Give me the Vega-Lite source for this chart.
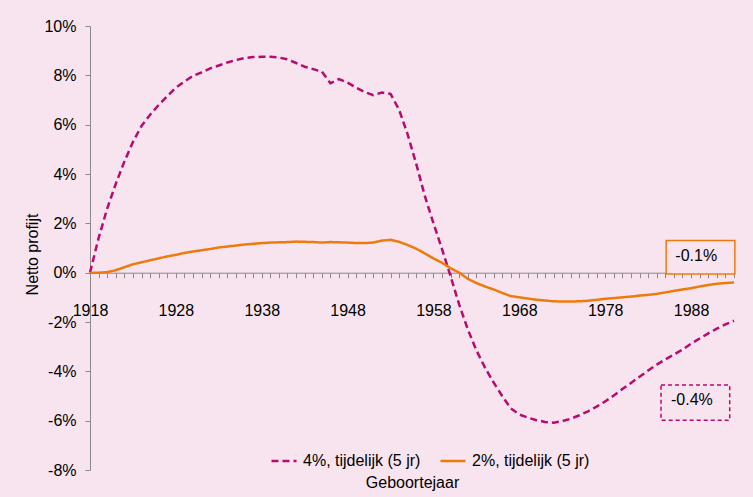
{
  "$schema": "https://vega.github.io/schema/vega-lite/v6.json",
  "width": 644,
  "height": 444,
  "autosize": {"type": "none"},
  "padding": {"left": 90, "top": 26, "right": 19, "bottom": 27},
  "background": "#f7e4ef",
  "config": {
    "view": {"stroke": null},
    "font": "Liberation Sans",
    "axis": {"labelFont": "Liberation Sans", "titleFont": "Liberation Sans", "labelColor": "#000000", "titleColor": "#000000", "labelFontSize": 16, "titleFontSize": 16, "titleFontWeight": "normal", "domainColor": "#8a8a8a", "grid": false, "ticks": true},
    "legend": {"labelFont": "Liberation Sans", "labelFontSize": 16, "labelColor": "#000000"}
  },
  "datasets": {
    "lines": [
      {"jaar":1918,"reeks":"4%, tijdelijk (5 jr)","waarde":0},
      {"jaar":1919,"reeks":"4%, tijdelijk (5 jr)","waarde":1.4},
      {"jaar":1920,"reeks":"4%, tijdelijk (5 jr)","waarde":2.6},
      {"jaar":1921,"reeks":"4%, tijdelijk (5 jr)","waarde":3.6},
      {"jaar":1922,"reeks":"4%, tijdelijk (5 jr)","waarde":4.5},
      {"jaar":1923,"reeks":"4%, tijdelijk (5 jr)","waarde":5.3},
      {"jaar":1924,"reeks":"4%, tijdelijk (5 jr)","waarde":5.95},
      {"jaar":1925,"reeks":"4%, tijdelijk (5 jr)","waarde":6.4},
      {"jaar":1926,"reeks":"4%, tijdelijk (5 jr)","waarde":6.8},
      {"jaar":1927,"reeks":"4%, tijdelijk (5 jr)","waarde":7.15},
      {"jaar":1928,"reeks":"4%, tijdelijk (5 jr)","waarde":7.5},
      {"jaar":1929,"reeks":"4%, tijdelijk (5 jr)","waarde":7.75},
      {"jaar":1930,"reeks":"4%, tijdelijk (5 jr)","waarde":7.98},
      {"jaar":1931,"reeks":"4%, tijdelijk (5 jr)","waarde":8.12},
      {"jaar":1932,"reeks":"4%, tijdelijk (5 jr)","waarde":8.28},
      {"jaar":1933,"reeks":"4%, tijdelijk (5 jr)","waarde":8.4},
      {"jaar":1934,"reeks":"4%, tijdelijk (5 jr)","waarde":8.52},
      {"jaar":1935,"reeks":"4%, tijdelijk (5 jr)","waarde":8.62},
      {"jaar":1936,"reeks":"4%, tijdelijk (5 jr)","waarde":8.7},
      {"jaar":1937,"reeks":"4%, tijdelijk (5 jr)","waarde":8.74},
      {"jaar":1938,"reeks":"4%, tijdelijk (5 jr)","waarde":8.75},
      {"jaar":1939,"reeks":"4%, tijdelijk (5 jr)","waarde":8.75},
      {"jaar":1940,"reeks":"4%, tijdelijk (5 jr)","waarde":8.72},
      {"jaar":1941,"reeks":"4%, tijdelijk (5 jr)","waarde":8.65},
      {"jaar":1942,"reeks":"4%, tijdelijk (5 jr)","waarde":8.5},
      {"jaar":1943,"reeks":"4%, tijdelijk (5 jr)","waarde":8.35},
      {"jaar":1944,"reeks":"4%, tijdelijk (5 jr)","waarde":8.25},
      {"jaar":1945,"reeks":"4%, tijdelijk (5 jr)","waarde":8.15},
      {"jaar":1946,"reeks":"4%, tijdelijk (5 jr)","waarde":7.68},
      {"jaar":1947,"reeks":"4%, tijdelijk (5 jr)","waarde":7.85},
      {"jaar":1948,"reeks":"4%, tijdelijk (5 jr)","waarde":7.7},
      {"jaar":1949,"reeks":"4%, tijdelijk (5 jr)","waarde":7.5},
      {"jaar":1950,"reeks":"4%, tijdelijk (5 jr)","waarde":7.32},
      {"jaar":1951,"reeks":"4%, tijdelijk (5 jr)","waarde":7.2},
      {"jaar":1952,"reeks":"4%, tijdelijk (5 jr)","waarde":7.3},
      {"jaar":1953,"reeks":"4%, tijdelijk (5 jr)","waarde":7.25},
      {"jaar":1954,"reeks":"4%, tijdelijk (5 jr)","waarde":6.6},
      {"jaar":1955,"reeks":"4%, tijdelijk (5 jr)","waarde":5.6},
      {"jaar":1956,"reeks":"4%, tijdelijk (5 jr)","waarde":4.4},
      {"jaar":1957,"reeks":"4%, tijdelijk (5 jr)","waarde":3.1},
      {"jaar":1958,"reeks":"4%, tijdelijk (5 jr)","waarde":2.0},
      {"jaar":1959,"reeks":"4%, tijdelijk (5 jr)","waarde":0.95},
      {"jaar":1960,"reeks":"4%, tijdelijk (5 jr)","waarde":-0.15},
      {"jaar":1961,"reeks":"4%, tijdelijk (5 jr)","waarde":-1.3},
      {"jaar":1962,"reeks":"4%, tijdelijk (5 jr)","waarde":-2.3},
      {"jaar":1963,"reeks":"4%, tijdelijk (5 jr)","waarde":-3.15},
      {"jaar":1964,"reeks":"4%, tijdelijk (5 jr)","waarde":-3.85},
      {"jaar":1965,"reeks":"4%, tijdelijk (5 jr)","waarde":-4.45},
      {"jaar":1966,"reeks":"4%, tijdelijk (5 jr)","waarde":-5.0},
      {"jaar":1967,"reeks":"4%, tijdelijk (5 jr)","waarde":-5.5},
      {"jaar":1968,"reeks":"4%, tijdelijk (5 jr)","waarde":-5.75},
      {"jaar":1969,"reeks":"4%, tijdelijk (5 jr)","waarde":-5.88},
      {"jaar":1970,"reeks":"4%, tijdelijk (5 jr)","waarde":-5.98},
      {"jaar":1971,"reeks":"4%, tijdelijk (5 jr)","waarde":-6.05},
      {"jaar":1972,"reeks":"4%, tijdelijk (5 jr)","waarde":-6.08},
      {"jaar":1973,"reeks":"4%, tijdelijk (5 jr)","waarde":-6.02},
      {"jaar":1974,"reeks":"4%, tijdelijk (5 jr)","waarde":-5.92},
      {"jaar":1975,"reeks":"4%, tijdelijk (5 jr)","waarde":-5.78},
      {"jaar":1976,"reeks":"4%, tijdelijk (5 jr)","waarde":-5.62},
      {"jaar":1977,"reeks":"4%, tijdelijk (5 jr)","waarde":-5.43},
      {"jaar":1978,"reeks":"4%, tijdelijk (5 jr)","waarde":-5.22},
      {"jaar":1979,"reeks":"4%, tijdelijk (5 jr)","waarde":-4.98},
      {"jaar":1980,"reeks":"4%, tijdelijk (5 jr)","waarde":-4.72},
      {"jaar":1981,"reeks":"4%, tijdelijk (5 jr)","waarde":-4.47},
      {"jaar":1982,"reeks":"4%, tijdelijk (5 jr)","waarde":-4.22},
      {"jaar":1983,"reeks":"4%, tijdelijk (5 jr)","waarde":-3.97},
      {"jaar":1984,"reeks":"4%, tijdelijk (5 jr)","waarde":-3.73},
      {"jaar":1985,"reeks":"4%, tijdelijk (5 jr)","waarde":-3.52},
      {"jaar":1986,"reeks":"4%, tijdelijk (5 jr)","waarde":-3.32},
      {"jaar":1987,"reeks":"4%, tijdelijk (5 jr)","waarde":-3.12},
      {"jaar":1988,"reeks":"4%, tijdelijk (5 jr)","waarde":-2.88},
      {"jaar":1989,"reeks":"4%, tijdelijk (5 jr)","waarde":-2.67},
      {"jaar":1990,"reeks":"4%, tijdelijk (5 jr)","waarde":-2.46},
      {"jaar":1991,"reeks":"4%, tijdelijk (5 jr)","waarde":-2.27},
      {"jaar":1992,"reeks":"4%, tijdelijk (5 jr)","waarde":-2.1},
      {"jaar":1993,"reeks":"4%, tijdelijk (5 jr)","waarde":-1.95},
      {"jaar":1918,"reeks":"2%, tijdelijk (5 jr)","waarde":0},
      {"jaar":1919,"reeks":"2%, tijdelijk (5 jr)","waarde":0},
      {"jaar":1920,"reeks":"2%, tijdelijk (5 jr)","waarde":0.02},
      {"jaar":1921,"reeks":"2%, tijdelijk (5 jr)","waarde":0.1},
      {"jaar":1922,"reeks":"2%, tijdelijk (5 jr)","waarde":0.22},
      {"jaar":1923,"reeks":"2%, tijdelijk (5 jr)","waarde":0.34},
      {"jaar":1924,"reeks":"2%, tijdelijk (5 jr)","waarde":0.42},
      {"jaar":1925,"reeks":"2%, tijdelijk (5 jr)","waarde":0.5},
      {"jaar":1926,"reeks":"2%, tijdelijk (5 jr)","waarde":0.58},
      {"jaar":1927,"reeks":"2%, tijdelijk (5 jr)","waarde":0.66},
      {"jaar":1928,"reeks":"2%, tijdelijk (5 jr)","waarde":0.72},
      {"jaar":1929,"reeks":"2%, tijdelijk (5 jr)","waarde":0.8},
      {"jaar":1930,"reeks":"2%, tijdelijk (5 jr)","waarde":0.86},
      {"jaar":1931,"reeks":"2%, tijdelijk (5 jr)","waarde":0.91},
      {"jaar":1932,"reeks":"2%, tijdelijk (5 jr)","waarde":0.96},
      {"jaar":1933,"reeks":"2%, tijdelijk (5 jr)","waarde":1.02},
      {"jaar":1934,"reeks":"2%, tijdelijk (5 jr)","waarde":1.06},
      {"jaar":1935,"reeks":"2%, tijdelijk (5 jr)","waarde":1.1},
      {"jaar":1936,"reeks":"2%, tijdelijk (5 jr)","waarde":1.14},
      {"jaar":1937,"reeks":"2%, tijdelijk (5 jr)","waarde":1.17},
      {"jaar":1938,"reeks":"2%, tijdelijk (5 jr)","waarde":1.2},
      {"jaar":1939,"reeks":"2%, tijdelijk (5 jr)","waarde":1.22},
      {"jaar":1940,"reeks":"2%, tijdelijk (5 jr)","waarde":1.23},
      {"jaar":1941,"reeks":"2%, tijdelijk (5 jr)","waarde":1.24},
      {"jaar":1942,"reeks":"2%, tijdelijk (5 jr)","waarde":1.26},
      {"jaar":1943,"reeks":"2%, tijdelijk (5 jr)","waarde":1.25},
      {"jaar":1944,"reeks":"2%, tijdelijk (5 jr)","waarde":1.24},
      {"jaar":1945,"reeks":"2%, tijdelijk (5 jr)","waarde":1.22},
      {"jaar":1946,"reeks":"2%, tijdelijk (5 jr)","waarde":1.24},
      {"jaar":1947,"reeks":"2%, tijdelijk (5 jr)","waarde":1.23},
      {"jaar":1948,"reeks":"2%, tijdelijk (5 jr)","waarde":1.22},
      {"jaar":1949,"reeks":"2%, tijdelijk (5 jr)","waarde":1.2},
      {"jaar":1950,"reeks":"2%, tijdelijk (5 jr)","waarde":1.2},
      {"jaar":1951,"reeks":"2%, tijdelijk (5 jr)","waarde":1.22},
      {"jaar":1952,"reeks":"2%, tijdelijk (5 jr)","waarde":1.3},
      {"jaar":1953,"reeks":"2%, tijdelijk (5 jr)","waarde":1.33},
      {"jaar":1954,"reeks":"2%, tijdelijk (5 jr)","waarde":1.25},
      {"jaar":1955,"reeks":"2%, tijdelijk (5 jr)","waarde":1.12},
      {"jaar":1956,"reeks":"2%, tijdelijk (5 jr)","waarde":0.97},
      {"jaar":1957,"reeks":"2%, tijdelijk (5 jr)","waarde":0.78},
      {"jaar":1958,"reeks":"2%, tijdelijk (5 jr)","waarde":0.58},
      {"jaar":1959,"reeks":"2%, tijdelijk (5 jr)","waarde":0.4},
      {"jaar":1960,"reeks":"2%, tijdelijk (5 jr)","waarde":0.18},
      {"jaar":1961,"reeks":"2%, tijdelijk (5 jr)","waarde":0.0},
      {"jaar":1962,"reeks":"2%, tijdelijk (5 jr)","waarde":-0.25},
      {"jaar":1963,"reeks":"2%, tijdelijk (5 jr)","waarde":-0.42},
      {"jaar":1964,"reeks":"2%, tijdelijk (5 jr)","waarde":-0.56},
      {"jaar":1965,"reeks":"2%, tijdelijk (5 jr)","waarde":-0.68},
      {"jaar":1966,"reeks":"2%, tijdelijk (5 jr)","waarde":-0.82},
      {"jaar":1967,"reeks":"2%, tijdelijk (5 jr)","waarde":-0.95},
      {"jaar":1968,"reeks":"2%, tijdelijk (5 jr)","waarde":-1.0},
      {"jaar":1969,"reeks":"2%, tijdelijk (5 jr)","waarde":-1.05},
      {"jaar":1970,"reeks":"2%, tijdelijk (5 jr)","waarde":-1.1},
      {"jaar":1971,"reeks":"2%, tijdelijk (5 jr)","waarde":-1.13},
      {"jaar":1972,"reeks":"2%, tijdelijk (5 jr)","waarde":-1.16},
      {"jaar":1973,"reeks":"2%, tijdelijk (5 jr)","waarde":-1.17},
      {"jaar":1974,"reeks":"2%, tijdelijk (5 jr)","waarde":-1.17},
      {"jaar":1975,"reeks":"2%, tijdelijk (5 jr)","waarde":-1.16},
      {"jaar":1976,"reeks":"2%, tijdelijk (5 jr)","waarde":-1.14},
      {"jaar":1977,"reeks":"2%, tijdelijk (5 jr)","waarde":-1.1},
      {"jaar":1978,"reeks":"2%, tijdelijk (5 jr)","waarde":-1.06},
      {"jaar":1979,"reeks":"2%, tijdelijk (5 jr)","waarde":-1.03},
      {"jaar":1980,"reeks":"2%, tijdelijk (5 jr)","waarde":-1.0},
      {"jaar":1981,"reeks":"2%, tijdelijk (5 jr)","waarde":-0.97},
      {"jaar":1982,"reeks":"2%, tijdelijk (5 jr)","waarde":-0.93},
      {"jaar":1983,"reeks":"2%, tijdelijk (5 jr)","waarde":-0.9},
      {"jaar":1984,"reeks":"2%, tijdelijk (5 jr)","waarde":-0.86},
      {"jaar":1985,"reeks":"2%, tijdelijk (5 jr)","waarde":-0.8},
      {"jaar":1986,"reeks":"2%, tijdelijk (5 jr)","waarde":-0.74},
      {"jaar":1987,"reeks":"2%, tijdelijk (5 jr)","waarde":-0.68},
      {"jaar":1988,"reeks":"2%, tijdelijk (5 jr)","waarde":-0.63},
      {"jaar":1989,"reeks":"2%, tijdelijk (5 jr)","waarde":-0.56},
      {"jaar":1990,"reeks":"2%, tijdelijk (5 jr)","waarde":-0.5},
      {"jaar":1991,"reeks":"2%, tijdelijk (5 jr)","waarde":-0.45},
      {"jaar":1992,"reeks":"2%, tijdelijk (5 jr)","waarde":-0.42},
      {"jaar":1993,"reeks":"2%, tijdelijk (5 jr)","waarde":-0.4}
    ],
    "boxes": [
      {"jaar": 1985.1, "jaar2": 1993.1, "waarde": 1.3, "waarde2": -0.05, "kleur": "oranje"},
      {"jaar": 1984.5, "jaar2": 1992.5, "waarde": -4.55, "waarde2": -5.98, "kleur": "paars"}
    ],
    "teksten": [
      {"jaar": 1988.6, "waarde": 0.67, "tekst": "-0.1%"},
      {"jaar": 1988.1, "waarde": -5.15, "tekst": "-0.4%"}
    ]
  },
  "encoding": {
    "x": {
      "field": "jaar", "type": "quantitative",
      "scale": {"domain": [1918, 1993], "nice": false, "zero": false},
      "axis": {
        "title": "Geboortejaar",
        "offset": -197.3,
        "values": [1918,1919,1920,1921,1922,1923,1924,1925,1926,1927,1928,1929,1930,1931,1932,1933,1934,1935,1936,1937,1938,1939,1940,1941,1942,1943,1944,1945,1946,1947,1948,1949,1950,1951,1952,1953,1954,1955,1956,1957,1958,1959,1960,1961,1962,1963,1964,1965,1966,1967,1968,1969,1970,1971,1972,1973,1974,1975,1976,1977,1978,1979,1980,1981,1982,1983,1984,1985,1986,1987,1988,1989,1990,1991,1992,1993],
        "labelExpr": "(datum.value - 1918) % 10 == 0 ? '' + datum.value : ''",
        "labelOverlap": false,
        "labelBound": false,
        "labelFlush": false,
        "ticks": true,
        "tickSize": 5,
        "tickWidth": 1,
        "tickColor": "#8a8a8a",
        "tickOpacity": 1,
        "labelPadding": 25,
        "titleY": 210,
        "titleBaseline": "middle"
      }
    },
    "y": {
      "field": "waarde", "type": "quantitative",
      "scale": {"domain": [-8, 10], "nice": false, "zero": false},
      "axis": {
        "title": "Netto profijt",
        "values": [-8, -6, -4, -2, 0, 2, 4, 6, 8, 10],
        "labelExpr": "datum.value + '%'",
        "ticks": true,
        "tickSize": 5,
        "tickColor": "#8a8a8a",
        "labelPadding": 9,
        "titleX": -58,
        "titleY": 228,
        "titleAngle": -90,
        "titleAlign": "center",
        "titleBaseline": "middle"
      }
    }
  },
  "layer": [
    {
      "data": {"name": "lines"},
      "mark": {"type": "line", "strokeWidth": 2.5, "clip": false},
      "encoding": {
        "color": {
          "field": "reeks", "type": "nominal",
          "scale": {"domain": ["4%, tijdelijk (5 jr)", "2%, tijdelijk (5 jr)"], "range": ["#b80a6f", "#ef7a0c"]},
          "legend": {
            "title": null,
            "orient": "none",
            "direction": "horizontal",
            "legendX": 180,
            "legendY": 421,
            "symbolType": "stroke",
            "symbolSize": 625,
            "symbolStrokeWidth": 2.5,
            "labelOffset": 5,
            "columnPadding": 14
          }
        },
        "strokeDash": {
          "field": "reeks", "type": "nominal",
          "scale": {"domain": ["4%, tijdelijk (5 jr)", "2%, tijdelijk (5 jr)"], "range": [[7, 4], [1, 0]]},
          "legend": null
        }
      }
    },
    {
      "data": {"name": "boxes"},
      "transform": [{"filter": "datum.kleur == 'oranje'"}],
      "mark": {"type": "rect", "fill": "#f7e4ef", "stroke": "#ef7a0c", "strokeWidth": 1.5, "clip": false},
      "encoding": {
        "x2": {"field": "jaar2"},
        "y2": {"field": "waarde2"}
      }
    },
    {
      "data": {"name": "boxes"},
      "transform": [{"filter": "datum.kleur == 'paars'"}],
      "mark": {"type": "rect", "fill": "#f7e4ef", "stroke": "#b80a6f", "strokeWidth": 1.5, "strokeDash": [4, 3], "clip": false},
      "encoding": {
        "x2": {"field": "jaar2"},
        "y2": {"field": "waarde2"}
      }
    },
    {
      "data": {"name": "teksten"},
      "mark": {"type": "text", "fontSize": 16, "font": "Liberation Sans", "color": "#000000", "align": "center", "baseline": "middle"},
      "encoding": {
        "text": {"field": "tekst"}
      }
    }
  ]
}
